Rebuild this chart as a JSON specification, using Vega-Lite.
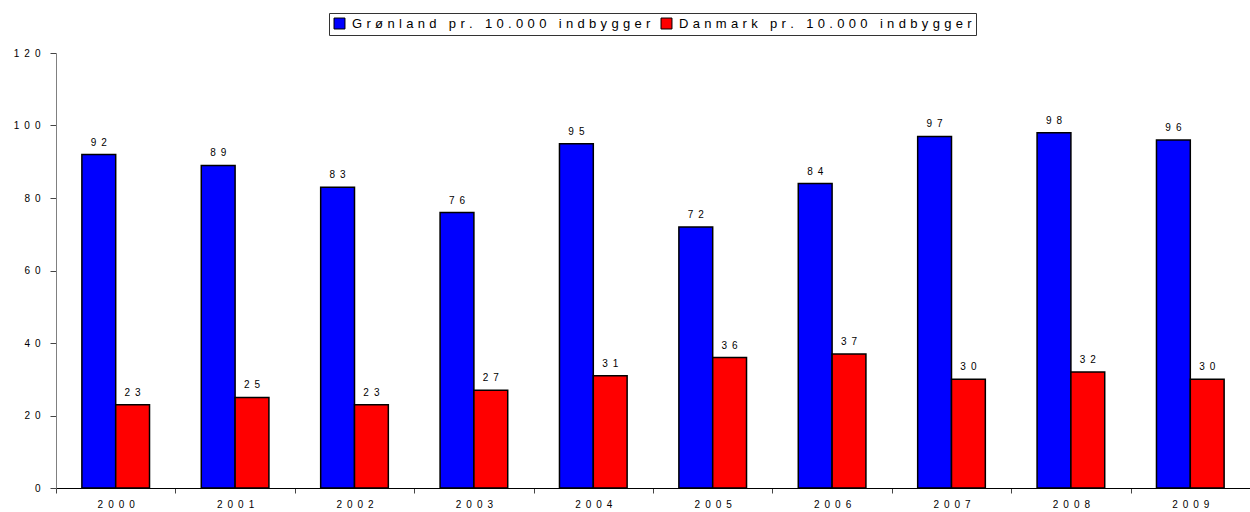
{
  "$schema": "https://vega.github.io/schema/vega-lite/v6.json",
  "autosize": {"type": "none"},
  "padding": {"left": 56, "top": 53, "right": 0, "bottom": 24},
  "width": 1194,
  "height": 435,
  "background": "white",
  "config": {
    "view": {"stroke": null},
    "font": "Liberation Sans",
    "axis": {"labelFont": "Liberation Sans", "labelColor": "#000", "labelFontSize": 10, "grid": false}
  },
  "data": {
    "values": [
      {"year": "2000", "serie": "Grønland pr. 10.000 indbygger", "value": 92},
      {"year": "2001", "serie": "Grønland pr. 10.000 indbygger", "value": 89},
      {"year": "2002", "serie": "Grønland pr. 10.000 indbygger", "value": 83},
      {"year": "2003", "serie": "Grønland pr. 10.000 indbygger", "value": 76},
      {"year": "2004", "serie": "Grønland pr. 10.000 indbygger", "value": 95},
      {"year": "2005", "serie": "Grønland pr. 10.000 indbygger", "value": 72},
      {"year": "2006", "serie": "Grønland pr. 10.000 indbygger", "value": 84},
      {"year": "2007", "serie": "Grønland pr. 10.000 indbygger", "value": 97},
      {"year": "2008", "serie": "Grønland pr. 10.000 indbygger", "value": 98},
      {"year": "2009", "serie": "Grønland pr. 10.000 indbygger", "value": 96},
      {"year": "2000", "serie": "Danmark pr. 10.000 indbygger", "value": 23},
      {"year": "2001", "serie": "Danmark pr. 10.000 indbygger", "value": 25},
      {"year": "2002", "serie": "Danmark pr. 10.000 indbygger", "value": 23},
      {"year": "2003", "serie": "Danmark pr. 10.000 indbygger", "value": 27},
      {"year": "2004", "serie": "Danmark pr. 10.000 indbygger", "value": 31},
      {"year": "2005", "serie": "Danmark pr. 10.000 indbygger", "value": 36},
      {"year": "2006", "serie": "Danmark pr. 10.000 indbygger", "value": 37},
      {"year": "2007", "serie": "Danmark pr. 10.000 indbygger", "value": 30},
      {"year": "2008", "serie": "Danmark pr. 10.000 indbygger", "value": 32},
      {"year": "2009", "serie": "Danmark pr. 10.000 indbygger", "value": 30}
    ]
  },
  "encoding": {
    "x": {
      "field": "year", "type": "nominal",
      "scale": {"paddingInner": 0, "paddingOuter": 0},
      "axis": {
        "title": null, "labelAngle": 0, "tickBand": "extent",
        "domainColor": "#000", "tickColor": "#444", "tickSize": 5,
        "labelPadding": 6,
        "labelExpr": "replace(datum.label, regexp('(.)(?=.)','g'), '$1\u2002')"
      }
    },
    "xOffset": {
      "field": "serie", "type": "nominal",
      "sort": ["Grønland pr. 10.000 indbygger", "Danmark pr. 10.000 indbygger"],
      "scale": {"paddingInner": 0, "paddingOuter": 0.765}
    },
    "y": {
      "field": "value", "type": "quantitative",
      "scale": {"domain": [0, 120]},
      "axis": {
        "title": null, "values": [0, 20, 40, 60, 80, 100, 120],
        "domainColor": "#808080", "tickColor": "#444", "tickSize": 6,
        "labelPadding": 10,
        "labelExpr": "replace(datum.label, regexp('(.)(?=.)','g'), '$1\u2002')"
      }
    }
  },
  "layer": [
    {
      "mark": {"type": "bar", "stroke": "#000", "strokeWidth": 1.5},
      "encoding": {
        "color": {
          "field": "serie", "type": "nominal",
          "scale": {"domain": ["Grønland pr. 10.000 indbygger", "Danmark pr. 10.000 indbygger"], "range": ["#0000FF", "#FF0000"]},
          "legend": {
            "title": null, "orient": "none", "direction": "horizontal",
            "legendX": 273, "legendY": -40,
            "strokeColor": "#333", "padding": 4,
            "symbolType": "square", "symbolSize": 120, "symbolStrokeColor": "#000", "symbolStrokeWidth": 1,
            "labelFont": "Liberation Sans", "labelFontSize": 13, "labelColor": "#000",
            "columnPadding": 8, "labelOffset": 6, "labelLimit": 500,
            "labelExpr": "replace(datum.label, regexp('(.)(?=.)','g'), '$1\u2004')"
          }
        }
      }
    },
    {
      "mark": {
        "type": "text", "baseline": "bottom", "dy": -7, "fontSize": 10, "color": "#000",
        "text": {"expr": "replace('' + datum.value, regexp('(.)(?=.)','g'), '$1\u2002')"}
      },
      "encoding": {}
    }
  ]
}
